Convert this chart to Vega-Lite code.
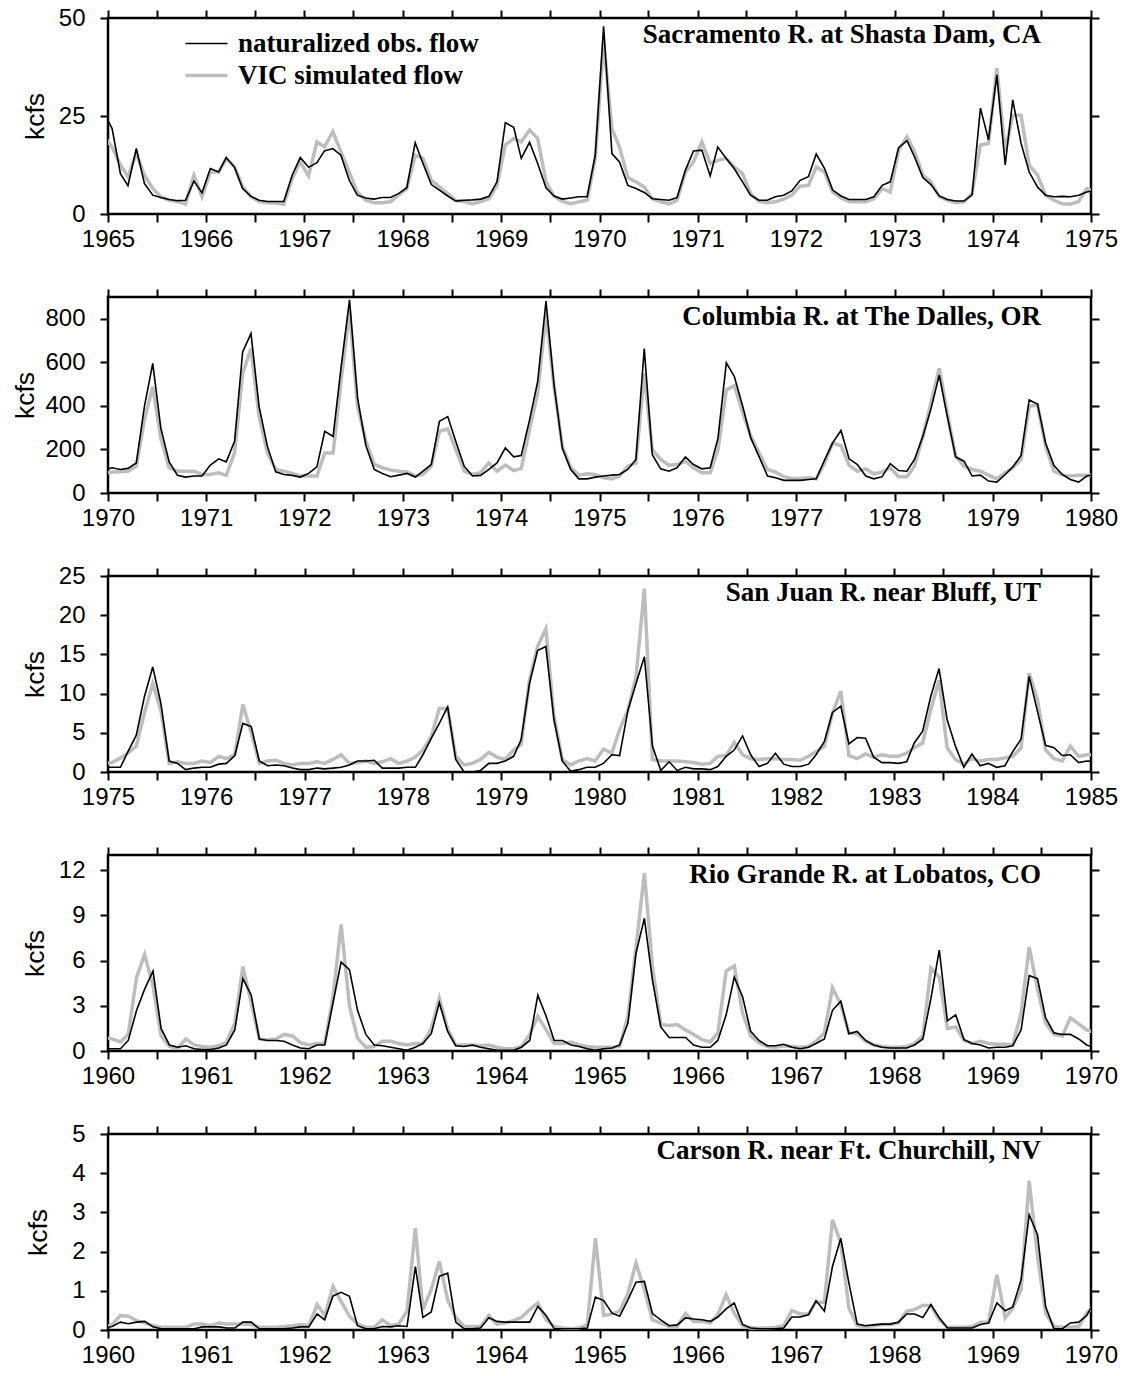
{
"$schema":"https://vega.github.io/schema/vega-lite/v6.json",
"background":"white",
"padding":{"left":10,"top":4,"right":10,"bottom":10},
"bounds":"flush",
"spacing":83,
"config":{
 "view":{"stroke":"black","strokeWidth":2.5},
 "font":"Liberation Sans",
 "axis":{"domain":false,"grid":false,"tickColor":"black","tickWidth":2,"tickSize":8,"labelFont":"Liberation Sans","labelFontSize":24,"labelColor":"black","titleFont":"Liberation Sans","titleFontSize":26.5,"titleFontWeight":"normal","titleColor":"black","labelOverlap":false,"labelFlush":false},
 "axisX":{"labelPadding":5},
 "axisY":{"labelPadding":15,"titleX":-65,"titleY":98,"titleAngle":-90,"titleBaseline":"alphabetic","titleAlign":"center"},
 "title":{"font":"Liberation Serif","fontSize":27,"fontWeight":"bold","color":"black","anchor":"end","frame":"group","baseline":"alphabetic","offset":-43,"dx":-50}
},
"datasets":{
"p1":[{"d":"1964-12","o":26,"v":20},
{"d":"1965-01","o":21.8,"v":17},{"d":"1965-02","o":10.3,"v":12.5},{"d":"1965-03","o":7.2,"v":9.5},{"d":"1965-04","o":16.7,"v":15.5},{"d":"1965-05","o":7.8,"v":9.9},{"d":"1965-06","o":4.8,"v":6.5},{"d":"1965-07","o":4.2,"v":4.4},{"d":"1965-08","o":3.7,"v":3.5},{"d":"1965-09","o":3.4,"v":3.1},{"d":"1965-10","o":3.5,"v":2.6},{"d":"1965-11","o":8.4,"v":9.9},{"d":"1965-12","o":5.4,"v":4.4},
{"d":"1966-01","o":11.6,"v":10.7},{"d":"1966-02","o":10.7,"v":10.7},{"d":"1966-03","o":14.4,"v":14.2},{"d":"1966-04","o":11.9,"v":12},{"d":"1966-05","o":6.5,"v":6.9},{"d":"1966-06","o":4.5,"v":4.4},{"d":"1966-07","o":3.5,"v":3.2},{"d":"1966-08","o":3.2,"v":2.9},{"d":"1966-09","o":3.2,"v":2.8},{"d":"1966-10","o":3.2,"v":2.5},{"d":"1966-11","o":9.9,"v":9},{"d":"1966-12","o":14.4,"v":13.3},
{"d":"1967-01","o":11.9,"v":9.7},{"d":"1967-02","o":13.1,"v":18.4},{"d":"1967-03","o":16.1,"v":17.1},{"d":"1967-04","o":16.7,"v":21},{"d":"1967-05","o":15,"v":15.9},{"d":"1967-06","o":8.6,"v":10.7},{"d":"1967-07","o":4.8,"v":5.6},{"d":"1967-08","o":4.1,"v":3.5},{"d":"1967-09","o":3.8,"v":2.9},{"d":"1967-10","o":4.2,"v":2.9},{"d":"1967-11","o":4.2,"v":3.1},{"d":"1967-12","o":5.2,"v":4.8},
{"d":"1968-01","o":6.7,"v":6.5},{"d":"1968-02","o":18.2,"v":15},{"d":"1968-03","o":12.9,"v":14.2},{"d":"1968-04","o":7.5,"v":8.6},{"d":"1968-05","o":6.1,"v":6.9},{"d":"1968-06","o":4.6,"v":5.2},{"d":"1968-07","o":3.3,"v":3.5},{"d":"1968-08","o":3.5,"v":3.2},{"d":"1968-09","o":3.6,"v":2.6},{"d":"1968-10","o":3.8,"v":3.2},{"d":"1968-11","o":4.5,"v":3.9},{"d":"1968-12","o":8.2,"v":7.3},
{"d":"1969-01","o":23.3,"v":17.6},{"d":"1969-02","o":22.1,"v":19.3},{"d":"1969-03","o":14.2,"v":18.4},{"d":"1969-04","o":18.3,"v":21.4},{"d":"1969-05","o":12.9,"v":19.3},{"d":"1969-06","o":6.7,"v":8.2},{"d":"1969-07","o":4.6,"v":4.5},{"d":"1969-08","o":3.8,"v":3.2},{"d":"1969-09","o":4.1,"v":2.6},{"d":"1969-10","o":4.4,"v":3.1},{"d":"1969-11","o":4.4,"v":3.5},{"d":"1969-12","o":15,"v":14.2},
{"d":"1970-01","o":47.9,"v":44},{"d":"1970-02","o":15.4,"v":21.8},{"d":"1970-03","o":13.3,"v":17.1},{"d":"1970-04","o":7.3,"v":9.3},{"d":"1970-05","o":6.5,"v":8.2},{"d":"1970-06","o":5.5,"v":6.9},{"d":"1970-07","o":3.9,"v":3.9},{"d":"1970-08","o":3.7,"v":3.1},{"d":"1970-09","o":3.5,"v":2.6},{"d":"1970-10","o":4.2,"v":3.5},{"d":"1970-11","o":11.2,"v":10.7},{"d":"1970-12","o":16.1,"v":13.3},
{"d":"1971-01","o":16.3,"v":18.4},{"d":"1971-02","o":9.7,"v":12.9},{"d":"1971-03","o":17.1,"v":13.7},{"d":"1971-04","o":14.2,"v":14.2},{"d":"1971-05","o":11.6,"v":12},{"d":"1971-06","o":8.2,"v":10.3},{"d":"1971-07","o":4.8,"v":5.2},{"d":"1971-08","o":3.5,"v":3.2},{"d":"1971-09","o":3.5,"v":2.9},{"d":"1971-10","o":4.4,"v":3.1},{"d":"1971-11","o":4.8,"v":3.8},{"d":"1971-12","o":5.9,"v":4.8},
{"d":"1972-01","o":8.6,"v":7.1},{"d":"1972-02","o":9.5,"v":7.3},{"d":"1972-03","o":15.3,"v":12},{"d":"1972-04","o":11.6,"v":10.7},{"d":"1972-05","o":6.1,"v":5.6},{"d":"1972-06","o":4.6,"v":4.1},{"d":"1972-07","o":3.7,"v":3.2},{"d":"1972-08","o":3.7,"v":3.1},{"d":"1972-09","o":3.7,"v":3.1},{"d":"1972-10","o":4.4,"v":3.9},{"d":"1972-11","o":7.3,"v":6.5},{"d":"1972-12","o":8.2,"v":5.6},
{"d":"1973-01","o":16.9,"v":16.3},{"d":"1973-02","o":18.7,"v":19.7},{"d":"1973-03","o":14.6,"v":15.9},{"d":"1973-04","o":9.3,"v":9.9},{"d":"1973-05","o":7.5,"v":8.2},{"d":"1973-06","o":4.6,"v":4.4},{"d":"1973-07","o":3.7,"v":3.5},{"d":"1973-08","o":3.3,"v":2.9},{"d":"1973-09","o":3.3,"v":3.1},{"d":"1973-10","o":4.9,"v":5.2},{"d":"1973-11","o":27,"v":17.6},{"d":"1973-12","o":18.9,"v":18},
{"d":"1974-01","o":35.5,"v":37.2},{"d":"1974-02","o":12.5,"v":15.9},{"d":"1974-03","o":29.1,"v":25.2},{"d":"1974-04","o":18,"v":25.2},{"d":"1974-05","o":10.7,"v":12.5},{"d":"1974-06","o":6.9,"v":9.9},{"d":"1974-07","o":4.8,"v":4.8},{"d":"1974-08","o":4.4,"v":3.5},{"d":"1974-09","o":4.5,"v":2.6},{"d":"1974-10","o":4.4,"v":2.5},{"d":"1974-11","o":4.8,"v":3.2},{"d":"1974-12","o":5.6,"v":6.5},
{"d":"1975-01","o":6,"v":5.5}],
"p2":[{"d":"1969-12","o":106,"v":90},
{"d":"1970-01","o":116,"v":96},{"d":"1970-02","o":108,"v":97},{"d":"1970-03","o":113,"v":100},{"d":"1970-04","o":138,"v":123},{"d":"1970-05","o":397,"v":336},{"d":"1970-06","o":595,"v":488},{"d":"1970-07","o":298,"v":252},{"d":"1970-08","o":143,"v":116},{"d":"1970-09","o":81,"v":100},{"d":"1970-10","o":73,"v":100},{"d":"1970-11","o":78,"v":100},{"d":"1970-12","o":78,"v":85},
{"d":"1971-01","o":128,"v":85},{"d":"1971-02","o":157,"v":93},{"d":"1971-03","o":143,"v":81},{"d":"1971-04","o":237,"v":184},{"d":"1971-05","o":648,"v":549},{"d":"1971-06","o":732,"v":663},{"d":"1971-07","o":397,"v":351},{"d":"1971-08","o":214,"v":184},{"d":"1971-09","o":97,"v":108},{"d":"1971-10","o":85,"v":100},{"d":"1971-11","o":81,"v":90},{"d":"1971-12","o":73,"v":78},
{"d":"1972-01","o":90,"v":78},{"d":"1972-02","o":120,"v":78},{"d":"1972-03","o":283,"v":184},{"d":"1972-04","o":260,"v":184},{"d":"1972-05","o":580,"v":519},{"d":"1972-06","o":887,"v":838},{"d":"1972-07","o":435,"v":397},{"d":"1972-08","o":217,"v":237},{"d":"1972-09","o":108,"v":131},{"d":"1972-10","o":90,"v":116},{"d":"1972-11","o":75,"v":105},{"d":"1972-12","o":82,"v":100},
{"d":"1973-01","o":90,"v":97},{"d":"1973-02","o":73,"v":78},{"d":"1973-03","o":100,"v":85},{"d":"1973-04","o":131,"v":123},{"d":"1973-05","o":329,"v":283},{"d":"1973-06","o":351,"v":294},{"d":"1973-07","o":237,"v":199},{"d":"1973-08","o":123,"v":100},{"d":"1973-09","o":78,"v":85},{"d":"1973-10","o":81,"v":93},{"d":"1973-11","o":108,"v":138},{"d":"1973-12","o":138,"v":100},
{"d":"1974-01","o":207,"v":128},{"d":"1974-02","o":166,"v":103},{"d":"1974-03","o":172,"v":113},{"d":"1974-04","o":336,"v":291},{"d":"1974-05","o":511,"v":458},{"d":"1974-06","o":881,"v":823},{"d":"1974-07","o":496,"v":488},{"d":"1974-08","o":204,"v":214},{"d":"1974-09","o":108,"v":116},{"d":"1974-10","o":65,"v":82},{"d":"1974-11","o":65,"v":88},{"d":"1974-12","o":73,"v":85},
{"d":"1975-01","o":78,"v":70},{"d":"1975-02","o":82,"v":65},{"d":"1975-03","o":85,"v":78},{"d":"1975-04","o":108,"v":123},{"d":"1975-05","o":154,"v":138},{"d":"1975-06","o":663,"v":549},{"d":"1975-07","o":176,"v":199},{"d":"1975-08","o":111,"v":154},{"d":"1975-09","o":100,"v":128},{"d":"1975-10","o":116,"v":131},{"d":"1975-11","o":166,"v":146},{"d":"1975-12","o":131,"v":116},
{"d":"1976-01","o":111,"v":93},{"d":"1976-02","o":116,"v":93},{"d":"1976-03","o":252,"v":199},{"d":"1976-04","o":598,"v":473},{"d":"1976-05","o":534,"v":493},{"d":"1976-06","o":397,"v":367},{"d":"1976-07","o":252,"v":260},{"d":"1976-08","o":166,"v":184},{"d":"1976-09","o":78,"v":108},{"d":"1976-10","o":70,"v":96},{"d":"1976-11","o":58,"v":75},{"d":"1976-12","o":58,"v":67},
{"d":"1977-01","o":58,"v":67},{"d":"1977-02","o":62,"v":70},{"d":"1977-03","o":65,"v":65},{"d":"1977-04","o":151,"v":138},{"d":"1977-05","o":230,"v":230},{"d":"1977-06","o":287,"v":217},{"d":"1977-07","o":157,"v":128},{"d":"1977-08","o":131,"v":100},{"d":"1977-09","o":78,"v":111},{"d":"1977-10","o":65,"v":88},{"d":"1977-11","o":75,"v":96},{"d":"1977-12","o":135,"v":116},
{"d":"1978-01","o":103,"v":75},{"d":"1978-02","o":100,"v":75},{"d":"1978-03","o":154,"v":123},{"d":"1978-04","o":260,"v":260},{"d":"1978-05","o":385,"v":412},{"d":"1978-06","o":541,"v":572},{"d":"1978-07","o":351,"v":367},{"d":"1978-08","o":166,"v":169},{"d":"1978-09","o":146,"v":123},{"d":"1978-10","o":78,"v":108},{"d":"1978-11","o":82,"v":100},{"d":"1978-12","o":55,"v":82},
{"d":"1979-01","o":50,"v":65},{"d":"1979-02","o":85,"v":93},{"d":"1979-03","o":119,"v":116},{"d":"1979-04","o":172,"v":154},{"d":"1979-05","o":427,"v":397},{"d":"1979-06","o":409,"v":405},{"d":"1979-07","o":230,"v":214},{"d":"1979-08","o":126,"v":100},{"d":"1979-09","o":85,"v":82},{"d":"1979-10","o":62,"v":78},{"d":"1979-11","o":50,"v":81},{"d":"1979-12","o":78,"v":82},
{"d":"1980-01","o":85,"v":82}],
"p3":[{"d":"1974-12","o":0.6,"v":1.1},
{"d":"1975-01","o":0.6,"v":1.2},{"d":"1975-02","o":0.6,"v":1.8},{"d":"1975-03","o":2.6,"v":2.4},{"d":"1975-04","o":4.7,"v":3.3},{"d":"1975-05","o":9.6,"v":7.5},{"d":"1975-06","o":13.4,"v":11.3},{"d":"1975-07","o":8.8,"v":7.9},{"d":"1975-08","o":1.4,"v":1.1},{"d":"1975-09","o":1.1,"v":1.3},{"d":"1975-10","o":0.3,"v":1.1},{"d":"1975-11","o":0.5,"v":1.1},{"d":"1975-12","o":0.6,"v":1.4},
{"d":"1976-01","o":0.6,"v":1.2},{"d":"1976-02","o":1,"v":2},{"d":"1976-03","o":1.1,"v":1.7},{"d":"1976-04","o":2.1,"v":2.2},{"d":"1976-05","o":6.2,"v":8.6},{"d":"1976-06","o":5.8,"v":5},{"d":"1976-07","o":1.4,"v":1.1},{"d":"1976-08","o":0.8,"v":1.4},{"d":"1976-09","o":0.9,"v":1.5},{"d":"1976-10","o":0.8,"v":1.1},{"d":"1976-11","o":0.5,"v":0.9},{"d":"1976-12","o":0.3,"v":1.1},
{"d":"1977-01","o":0.3,"v":1.1},{"d":"1977-02","o":0.5,"v":1.3},{"d":"1977-03","o":0.4,"v":1.1},{"d":"1977-04","o":0.5,"v":1.6},{"d":"1977-05","o":0.6,"v":2.2},{"d":"1977-06","o":0.9,"v":1.1},{"d":"1977-07","o":1.4,"v":1.2},{"d":"1977-08","o":1.4,"v":1.4},{"d":"1977-09","o":1.5,"v":1.1},{"d":"1977-10","o":0.5,"v":1.3},{"d":"1977-11","o":0.5,"v":1.7},{"d":"1977-12","o":0.5,"v":1.1},
{"d":"1978-01","o":0.6,"v":1.4},{"d":"1978-02","o":0.6,"v":1.9},{"d":"1978-03","o":2.2,"v":2.8},{"d":"1978-04","o":4.3,"v":4.5},{"d":"1978-05","o":6.2,"v":8.1},{"d":"1978-06","o":8.3,"v":8.1},{"d":"1978-07","o":1.6,"v":2},{"d":"1978-08","o":0,"v":0.9},{"d":"1978-09","o":0,"v":1.1},{"d":"1978-10","o":0.2,"v":1.6},{"d":"1978-11","o":1.1,"v":2.5},{"d":"1978-12","o":1.1,"v":1.9},
{"d":"1979-01","o":1.4,"v":1.6},{"d":"1979-02","o":2,"v":2.8},{"d":"1979-03","o":4.1,"v":3.5},{"d":"1979-04","o":11.3,"v":11.7},{"d":"1979-05","o":15.5,"v":16},{"d":"1979-06","o":16,"v":18.3},{"d":"1979-07","o":6.7,"v":7.1},{"d":"1979-08","o":1.4,"v":1.6},{"d":"1979-09","o":0.1,"v":0.9},{"d":"1979-10","o":0.3,"v":1.4},{"d":"1979-11","o":0.6,"v":1.7},{"d":"1979-12","o":0.6,"v":1.4},
{"d":"1980-01","o":1.1,"v":2.9},{"d":"1980-02","o":2.2,"v":2.4},{"d":"1980-03","o":2.1,"v":5.4},{"d":"1980-04","o":7.9,"v":7.9},{"d":"1980-05","o":11.3,"v":12.2},{"d":"1980-06","o":14.7,"v":23.4},{"d":"1980-07","o":3.3,"v":1.6},{"d":"1980-08","o":0.2,"v":1.4},{"d":"1980-09","o":1.3,"v":1.4},{"d":"1980-10","o":0.2,"v":1.4},{"d":"1980-11","o":0.6,"v":1.3},{"d":"1980-12","o":0.4,"v":1.2},
{"d":"1981-01","o":0.4,"v":1},{"d":"1981-02","o":0.3,"v":1.1},{"d":"1981-03","o":0.7,"v":2},{"d":"1981-04","o":2,"v":2.1},{"d":"1981-05","o":2.8,"v":3.8},{"d":"1981-06","o":4.6,"v":2.2},{"d":"1981-07","o":2.2,"v":1.7},{"d":"1981-08","o":0.7,"v":1.6},{"d":"1981-09","o":1.1,"v":1.7},{"d":"1981-10","o":2.4,"v":1.7},{"d":"1981-11","o":1,"v":1.6},{"d":"1981-12","o":0.7,"v":1.6},
{"d":"1982-01","o":0.7,"v":1.5},{"d":"1982-02","o":1,"v":2},{"d":"1982-03","o":2.2,"v":2.6},{"d":"1982-04","o":3.9,"v":3.3},{"d":"1982-05","o":7.6,"v":7.5},{"d":"1982-06","o":8.4,"v":10.3},{"d":"1982-07","o":3.6,"v":2.1},{"d":"1982-08","o":4.4,"v":1.7},{"d":"1982-09","o":4.3,"v":2.3},{"d":"1982-10","o":1.9,"v":1.9},{"d":"1982-11","o":1.2,"v":2.2},{"d":"1982-12","o":1.2,"v":2},
{"d":"1983-01","o":1.1,"v":2},{"d":"1983-02","o":1.3,"v":2.4},{"d":"1983-03","o":3.7,"v":3.1},{"d":"1983-04","o":5.2,"v":3.7},{"d":"1983-05","o":9.6,"v":7.9},{"d":"1983-06","o":13.2,"v":11.7},{"d":"1983-07","o":6.7,"v":3.1},{"d":"1983-08","o":3.3,"v":1.6},{"d":"1983-09","o":0.6,"v":1},{"d":"1983-10","o":2.3,"v":1.7},{"d":"1983-11","o":0.8,"v":1.4},{"d":"1983-12","o":1.1,"v":1.6},
{"d":"1984-01","o":0.6,"v":1.6},{"d":"1984-02","o":0.8,"v":1.8},{"d":"1984-03","o":2.6,"v":2},{"d":"1984-04","o":4.2,"v":3.1},{"d":"1984-05","o":12.2,"v":12.6},{"d":"1984-06","o":7.7,"v":9.2},{"d":"1984-07","o":3.4,"v":2.8},{"d":"1984-08","o":3.1,"v":1.7},{"d":"1984-09","o":2.1,"v":1.4},{"d":"1984-10","o":2.2,"v":3.3},{"d":"1984-11","o":1.2,"v":2},{"d":"1984-12","o":1.4,"v":2.2},
{"d":"1985-01","o":1.3,"v":2.2}],
"p4":[{"d":"1959-12","o":0.15,"v":0.9},
{"d":"1960-01","o":0.15,"v":0.8},{"d":"1960-02","o":0.15,"v":0.6},{"d":"1960-03","o":0.7,"v":1.1},{"d":"1960-04","o":2.7,"v":4.9},{"d":"1960-05","o":4.1,"v":6.4},{"d":"1960-06","o":5.3,"v":4.3},{"d":"1960-07","o":1.5,"v":1},{"d":"1960-08","o":0.4,"v":0.3},{"d":"1960-09","o":0.25,"v":0.2},{"d":"1960-10","o":0.35,"v":0.8},{"d":"1960-11","o":0.15,"v":0.4},{"d":"1960-12","o":0.1,"v":0.3},
{"d":"1961-01","o":0.1,"v":0.25},{"d":"1961-02","o":0.2,"v":0.35},{"d":"1961-03","o":0.4,"v":0.6},{"d":"1961-04","o":1.4,"v":1.85},{"d":"1961-05","o":4.8,"v":5.6},{"d":"1961-06","o":3.7,"v":3.2},{"d":"1961-07","o":0.8,"v":0.8},{"d":"1961-08","o":0.7,"v":0.75},{"d":"1961-09","o":0.7,"v":0.8},{"d":"1961-10","o":0.65,"v":1.1},{"d":"1961-11","o":0.4,"v":1},{"d":"1961-12","o":0.2,"v":0.55},
{"d":"1962-01","o":0.15,"v":0.4},{"d":"1962-02","o":0.4,"v":0.5},{"d":"1962-03","o":0.4,"v":0.5},{"d":"1962-04","o":3.2,"v":3.6},{"d":"1962-05","o":5.9,"v":8.4},{"d":"1962-06","o":5.4,"v":3},{"d":"1962-07","o":2.7,"v":0.85},{"d":"1962-08","o":1.1,"v":0.25},{"d":"1962-09","o":0.4,"v":0.3},{"d":"1962-10","o":0.35,"v":0.65},{"d":"1962-11","o":0.25,"v":0.65},{"d":"1962-12","o":0.15,"v":0.5},
{"d":"1963-01","o":0.05,"v":0.4},{"d":"1963-02","o":0.25,"v":0.5},{"d":"1963-03","o":0.5,"v":0.5},{"d":"1963-04","o":1.15,"v":1.5},{"d":"1963-05","o":3.2,"v":3.5},{"d":"1963-06","o":1.3,"v":1.45},{"d":"1963-07","o":0.35,"v":0.4},{"d":"1963-08","o":0.3,"v":0.4},{"d":"1963-09","o":0.4,"v":0.4},{"d":"1963-10","o":0.25,"v":0.35},{"d":"1963-11","o":0.15,"v":0.4},{"d":"1963-12","o":0.05,"v":0.25},
{"d":"1964-01","o":0.05,"v":0.15},{"d":"1964-02","o":0.05,"v":0.15},{"d":"1964-03","o":0.25,"v":0.3},{"d":"1964-04","o":0.7,"v":1.1},{"d":"1964-05","o":3.7,"v":2.3},{"d":"1964-06","o":2.3,"v":1.4},{"d":"1964-07","o":0.7,"v":0.5},{"d":"1964-08","o":0.7,"v":0.5},{"d":"1964-09","o":0.4,"v":0.6},{"d":"1964-10","o":0.3,"v":0.4},{"d":"1964-11","o":0.15,"v":0.3},{"d":"1964-12","o":0.05,"v":0.25},
{"d":"1965-01","o":0.15,"v":0.25},{"d":"1965-02","o":0.2,"v":0.25},{"d":"1965-03","o":0.4,"v":0.3},{"d":"1965-04","o":1.85,"v":2.3},{"d":"1965-05","o":6.5,"v":6.9},{"d":"1965-06","o":8.8,"v":11.8},{"d":"1965-07","o":4.7,"v":5.6},{"d":"1965-08","o":1.6,"v":1.75},{"d":"1965-09","o":0.9,"v":1.7},{"d":"1965-10","o":0.9,"v":1.75},{"d":"1965-11","o":0.9,"v":1.4},{"d":"1965-12","o":0.4,"v":1.1},
{"d":"1966-01","o":0.25,"v":0.75},{"d":"1966-02","o":0.25,"v":0.6},{"d":"1966-03","o":0.7,"v":1.2},{"d":"1966-04","o":2.4,"v":5.3},{"d":"1966-05","o":4.9,"v":5.65},{"d":"1966-06","o":3.6,"v":2.5},{"d":"1966-07","o":1.3,"v":1},{"d":"1966-08","o":0.7,"v":0.55},{"d":"1966-09","o":0.35,"v":0.3},{"d":"1966-10","o":0.35,"v":0.25},{"d":"1966-11","o":0.45,"v":0.35},{"d":"1966-12","o":0.25,"v":0.3},
{"d":"1967-01","o":0.15,"v":0.25},{"d":"1967-02","o":0.25,"v":0.3},{"d":"1967-03","o":0.5,"v":0.65},{"d":"1967-04","o":0.8,"v":1.2},{"d":"1967-05","o":2.7,"v":4.2},{"d":"1967-06","o":3.3,"v":3.1},{"d":"1967-07","o":1.15,"v":1.2},{"d":"1967-08","o":1.3,"v":1.15},{"d":"1967-09","o":0.7,"v":0.65},{"d":"1967-10","o":0.4,"v":0.4},{"d":"1967-11","o":0.25,"v":0.3},{"d":"1967-12","o":0.2,"v":0.25},
{"d":"1968-01","o":0.2,"v":0.25},{"d":"1968-02","o":0.2,"v":0.3},{"d":"1968-03","o":0.4,"v":0.5},{"d":"1968-04","o":0.8,"v":1},{"d":"1968-05","o":3.5,"v":5.5},{"d":"1968-06","o":6.7,"v":4.9},{"d":"1968-07","o":2,"v":1.5},{"d":"1968-08","o":2.4,"v":1.6},{"d":"1968-09","o":0.75,"v":0.7},{"d":"1968-10","o":0.5,"v":0.5},{"d":"1968-11","o":0.4,"v":0.65},{"d":"1968-12","o":0.2,"v":0.5},
{"d":"1969-01","o":0.25,"v":0.45},{"d":"1969-02","o":0.25,"v":0.45},{"d":"1969-03","o":0.35,"v":0.4},{"d":"1969-04","o":1.4,"v":2.5},{"d":"1969-05","o":5,"v":6.9},{"d":"1969-06","o":4.8,"v":4.1},{"d":"1969-07","o":2.2,"v":1.85},{"d":"1969-08","o":1.2,"v":1.1},{"d":"1969-09","o":1.1,"v":1},{"d":"1969-10","o":1.1,"v":2.2},{"d":"1969-11","o":0.8,"v":1.8},{"d":"1969-12","o":0.4,"v":1.4},
{"d":"1970-01","o":0.2,"v":1.2}],
"p5":[{"d":"1959-12","o":0.05,"v":0.05},
{"d":"1960-01","o":0.09,"v":0.14},{"d":"1960-02","o":0.2,"v":0.37},{"d":"1960-03","o":0.16,"v":0.35},{"d":"1960-04","o":0.2,"v":0.24},{"d":"1960-05","o":0.22,"v":0.18},{"d":"1960-06","o":0.08,"v":0.11},{"d":"1960-07","o":0.03,"v":0.07},{"d":"1960-08","o":0.03,"v":0.07},{"d":"1960-09","o":0.03,"v":0.07},{"d":"1960-10","o":0.03,"v":0.07},{"d":"1960-11","o":0.03,"v":0.15},{"d":"1960-12","o":0.08,"v":0.15},
{"d":"1961-01","o":0.08,"v":0.11},{"d":"1961-02","o":0.08,"v":0.18},{"d":"1961-03","o":0.05,"v":0.15},{"d":"1961-04","o":0.05,"v":0.15},{"d":"1961-05","o":0.2,"v":0.15},{"d":"1961-06","o":0.2,"v":0.14},{"d":"1961-07","o":0.03,"v":0.07},{"d":"1961-08","o":0.03,"v":0.07},{"d":"1961-09","o":0.03,"v":0.07},{"d":"1961-10","o":0.03,"v":0.09},{"d":"1961-11","o":0.05,"v":0.11},{"d":"1961-12","o":0.08,"v":0.14},
{"d":"1962-01","o":0.08,"v":0.11},{"d":"1962-02","o":0.41,"v":0.65},{"d":"1962-03","o":0.26,"v":0.37},{"d":"1962-04","o":0.87,"v":1.11},{"d":"1962-05","o":0.96,"v":0.73},{"d":"1962-06","o":0.86,"v":0.35},{"d":"1962-07","o":0.11,"v":0.15},{"d":"1962-08","o":0.03,"v":0.07},{"d":"1962-09","o":0.03,"v":0.07},{"d":"1962-10","o":0.09,"v":0.26},{"d":"1962-11","o":0.08,"v":0.11},{"d":"1962-12","o":0.11,"v":0.15},
{"d":"1963-01","o":0.09,"v":0.48},{"d":"1963-02","o":1.62,"v":2.6},{"d":"1963-03","o":0.32,"v":0.52},{"d":"1963-04","o":0.46,"v":1.03},{"d":"1963-05","o":1.37,"v":1.75},{"d":"1963-06","o":1.45,"v":0.77},{"d":"1963-07","o":0.2,"v":0.32},{"d":"1963-08","o":0.03,"v":0.09},{"d":"1963-09","o":0.03,"v":0.09},{"d":"1963-10","o":0.05,"v":0.09},{"d":"1963-11","o":0.31,"v":0.37},{"d":"1963-12","o":0.22,"v":0.15},
{"d":"1964-01","o":0.2,"v":0.18},{"d":"1964-02","o":0.2,"v":0.24},{"d":"1964-03","o":0.2,"v":0.32},{"d":"1964-04","o":0.2,"v":0.52},{"d":"1964-05","o":0.6,"v":0.69},{"d":"1964-06","o":0.37,"v":0.26},{"d":"1964-07","o":0.03,"v":0.09},{"d":"1964-08","o":0.03,"v":0.05},{"d":"1964-09","o":0.03,"v":0.03},{"d":"1964-10","o":0.03,"v":0.05},{"d":"1964-11","o":0.05,"v":0.14},{"d":"1964-12","o":0.84,"v":2.34},
{"d":"1965-01","o":0.75,"v":0.37},{"d":"1965-02","o":0.43,"v":0.41},{"d":"1965-03","o":0.35,"v":0.48},{"d":"1965-04","o":0.77,"v":0.94},{"d":"1965-05","o":1.22,"v":1.71},{"d":"1965-06","o":1.24,"v":1.03},{"d":"1965-07","o":0.42,"v":0.26},{"d":"1965-08","o":0.26,"v":0.18},{"d":"1965-09","o":0.11,"v":0.09},{"d":"1965-10","o":0.13,"v":0.09},{"d":"1965-11","o":0.31,"v":0.42},{"d":"1965-12","o":0.28,"v":0.22},
{"d":"1966-01","o":0.26,"v":0.22},{"d":"1966-02","o":0.22,"v":0.18},{"d":"1966-03","o":0.33,"v":0.39},{"d":"1966-04","o":0.54,"v":0.9},{"d":"1966-05","o":0.69,"v":0.43},{"d":"1966-06","o":0.14,"v":0.11},{"d":"1966-07","o":0.05,"v":0.05},{"d":"1966-08","o":0.03,"v":0.05},{"d":"1966-09","o":0.03,"v":0.05},{"d":"1966-10","o":0.03,"v":0.07},{"d":"1966-11","o":0.05,"v":0.11},{"d":"1966-12","o":0.33,"v":0.5},
{"d":"1967-01","o":0.33,"v":0.41},{"d":"1967-02","o":0.39,"v":0.41},{"d":"1967-03","o":0.75,"v":0.71},{"d":"1967-04","o":0.48,"v":0.71},{"d":"1967-05","o":1.62,"v":2.81},{"d":"1967-06","o":2.34,"v":2.22},{"d":"1967-07","o":1.2,"v":0.56},{"d":"1967-08","o":0.15,"v":0.11},{"d":"1967-09","o":0.11,"v":0.09},{"d":"1967-10","o":0.13,"v":0.11},{"d":"1967-11","o":0.15,"v":0.14},{"d":"1967-12","o":0.15,"v":0.14},
{"d":"1968-01","o":0.2,"v":0.18},{"d":"1968-02","o":0.41,"v":0.48},{"d":"1968-03","o":0.41,"v":0.52},{"d":"1968-04","o":0.32,"v":0.63},{"d":"1968-05","o":0.65,"v":0.62},{"d":"1968-06","o":0.31,"v":0.26},{"d":"1968-07","o":0.05,"v":0.07},{"d":"1968-08","o":0.05,"v":0.07},{"d":"1968-09","o":0.05,"v":0.07},{"d":"1968-10","o":0.05,"v":0.09},{"d":"1968-11","o":0.14,"v":0.2},{"d":"1968-12","o":0.18,"v":0.2},
{"d":"1969-01","o":0.69,"v":1.41},{"d":"1969-02","o":0.49,"v":0.31},{"d":"1969-03","o":0.59,"v":0.56},{"d":"1969-04","o":1.28,"v":1.03},{"d":"1969-05","o":2.94,"v":3.81},{"d":"1969-06","o":2.43,"v":1.88},{"d":"1969-07","o":0.6,"v":0.43},{"d":"1969-08","o":0.03,"v":0.09},{"d":"1969-09","o":0.03,"v":0.07},{"d":"1969-10","o":0.18,"v":0.07},{"d":"1969-11","o":0.2,"v":0.09},{"d":"1969-12","o":0.37,"v":0.43},
{"d":"1970-01","o":0.75,"v":0.65}]
},
"vconcat":[
{"width":983,"height":196,"data":{"name":"p1"},"transform":[{"fold":["v","o"],"as":["s","q"]}],
 "title":{"text":"Sacramento R. at Shasta Dam, CA"},
 "layer":[
  {"mark":{"type":"line","clip":true,"xOffset":4.1},
   "encoding":{
    "x":{"field":"d","type":"temporal","scale":{"type":"utc","domain":[{"year":1965,"month":1,"date":1,"utc":true},{"year":1975,"month":1,"date":1,"utc":true}]},"axis":{"orient":"bottom","title":null,"tickCount":{"interval":"month","step":6},"labelExpr":"utcmonth(datum.value)==0 ? utcFormat(datum.value,'%Y') : ''"}},
    "y":{"field":"q","type":"quantitative","scale":{"domain":[0,50],"nice":false},"axis":{"orient":"left","title":"kcfs","values":[0,25,50]}},
    "color":{"field":"s","type":"nominal","scale":{"domain":["o","v"],"range":["#000000","#bdbdbd"]},
      "legend":{"orient":"none","legendX":85,"legendY":12,"title":null,"symbolType":"M-2.5,0H2.5","symbolSize":282,"labelFont":"Liberation Serif","labelFontWeight":"bold","labelFontSize":27,"labelColor":"black","labelOffset":18,"rowPadding":4,"padding":0,"labelLimit":500,"labelExpr":"datum.value == 'o' ? 'naturalized obs. flow' : 'VIC simulated flow'"}},
    "strokeWidth":{"field":"s","type":"nominal","scale":{"type":"point","domain":["o","v"],"range":[1.6,3.5],"padding":0},
      "legend":{"orient":"none","legendX":85,"legendY":12,"title":null,"symbolType":"M-2.5,0H2.5","symbolSize":282,"labelFont":"Liberation Serif","labelFontWeight":"bold","labelFontSize":27,"labelColor":"black","labelOffset":18,"rowPadding":4,"padding":0,"labelLimit":500,"labelExpr":"datum.value == 'o' ? 'naturalized obs. flow' : 'VIC simulated flow'"}}
   }},
  {"mark":{"type":"line","opacity":0,"clip":true},
   "encoding":{
    "x":{"field":"d","type":"temporal","axis":{"orient":"top","title":null,"labels":false,"tickCount":{"interval":"month","step":6}}},
    "y":{"field":"q","type":"quantitative","axis":{"orient":"right","title":null,"labels":false,"values":[0,25,50]}}
   }}
 ],
 "resolve":{"axis":{"x":"independent","y":"independent"}}
},
{"width":983,"height":196,"data":{"name":"p2"},"transform":[{"fold":["v","o"],"as":["s","q"]}],
 "title":{"text":"Columbia R. at The Dalles, OR"},
 "layer":[
  {"mark":{"type":"line","clip":true,"xOffset":4.1},
   "encoding":{
    "x":{"field":"d","type":"temporal","scale":{"type":"utc","domain":[{"year":1970,"month":1,"date":1,"utc":true},{"year":1980,"month":1,"date":1,"utc":true}]},"axis":{"orient":"bottom","title":null,"tickCount":{"interval":"month","step":6},"labelExpr":"utcmonth(datum.value)==0 ? utcFormat(datum.value,'%Y') : ''"}},
    "y":{"field":"q","type":"quantitative","scale":{"domain":[0,900],"nice":false},"axis":{"orient":"left","title":"kcfs","titleX":-75,"values":[0,200,400,600,800]}},
    "color":{"field":"s","type":"nominal","scale":{"domain":["o","v"],"range":["#000000","#bdbdbd"]},"legend":null},
    "strokeWidth":{"field":"s","type":"nominal","scale":{"type":"point","domain":["o","v"],"range":[1.6,3.5],"padding":0},"legend":null}
   }},
  {"mark":{"type":"line","opacity":0,"clip":true},
   "encoding":{
    "x":{"field":"d","type":"temporal","axis":{"orient":"top","title":null,"labels":false,"tickCount":{"interval":"month","step":6}}},
    "y":{"field":"q","type":"quantitative","axis":{"orient":"right","title":null,"labels":false,"values":[0,200,400,600,800]}}
   }}
 ],
 "resolve":{"axis":{"x":"independent","y":"independent"}}
},
{"width":983,"height":196,"data":{"name":"p3"},"transform":[{"fold":["v","o"],"as":["s","q"]}],
 "title":{"text":"San Juan R. near Bluff, UT"},
 "layer":[
  {"mark":{"type":"line","clip":true,"xOffset":4.1},
   "encoding":{
    "x":{"field":"d","type":"temporal","scale":{"type":"utc","domain":[{"year":1975,"month":1,"date":1,"utc":true},{"year":1985,"month":1,"date":1,"utc":true}]},"axis":{"orient":"bottom","title":null,"tickCount":{"interval":"month","step":6},"labelExpr":"utcmonth(datum.value)==0 ? utcFormat(datum.value,'%Y') : ''"}},
    "y":{"field":"q","type":"quantitative","scale":{"domain":[0,25],"nice":false},"axis":{"orient":"left","title":"kcfs","values":[0,5,10,15,20,25]}},
    "color":{"field":"s","type":"nominal","scale":{"domain":["o","v"],"range":["#000000","#bdbdbd"]},"legend":null},
    "strokeWidth":{"field":"s","type":"nominal","scale":{"type":"point","domain":["o","v"],"range":[1.6,3.5],"padding":0},"legend":null}
   }},
  {"mark":{"type":"line","opacity":0,"clip":true},
   "encoding":{
    "x":{"field":"d","type":"temporal","axis":{"orient":"top","title":null,"labels":false,"tickCount":{"interval":"month","step":6}}},
    "y":{"field":"q","type":"quantitative","axis":{"orient":"right","title":null,"labels":false,"values":[0,5,10,15,20,25]}}
   }}
 ],
 "resolve":{"axis":{"x":"independent","y":"independent"}}
},
{"width":983,"height":196,"data":{"name":"p4"},"transform":[{"fold":["v","o"],"as":["s","q"]}],
 "title":{"text":"Rio Grande R. at Lobatos, CO"},
 "layer":[
  {"mark":{"type":"line","clip":true,"xOffset":4.1},
   "encoding":{
    "x":{"field":"d","type":"temporal","scale":{"type":"utc","domain":[{"year":1960,"month":1,"date":1,"utc":true},{"year":1970,"month":1,"date":1,"utc":true}]},"axis":{"orient":"bottom","title":null,"tickCount":{"interval":"month","step":6},"labelExpr":"utcmonth(datum.value)==0 ? utcFormat(datum.value,'%Y') : ''"}},
    "y":{"field":"q","type":"quantitative","scale":{"domain":[0,13],"nice":false},"axis":{"orient":"left","title":"kcfs","values":[0,3,6,9,12]}},
    "color":{"field":"s","type":"nominal","scale":{"domain":["o","v"],"range":["#000000","#bdbdbd"]},"legend":null},
    "strokeWidth":{"field":"s","type":"nominal","scale":{"type":"point","domain":["o","v"],"range":[1.6,3.5],"padding":0},"legend":null}
   }},
  {"mark":{"type":"line","opacity":0,"clip":true},
   "encoding":{
    "x":{"field":"d","type":"temporal","axis":{"orient":"top","title":null,"labels":false,"tickCount":{"interval":"month","step":6}}},
    "y":{"field":"q","type":"quantitative","axis":{"orient":"right","title":null,"labels":false,"values":[0,3,6,9,12]}}
   }}
 ],
 "resolve":{"axis":{"x":"independent","y":"independent"}}
},
{"width":983,"height":196,"data":{"name":"p5"},"transform":[{"fold":["v","o"],"as":["s","q"]}],
 "title":{"text":"Carson R. near Ft. Churchill, NV"},
 "layer":[
  {"mark":{"type":"line","clip":true,"xOffset":4.1},
   "encoding":{
    "x":{"field":"d","type":"temporal","scale":{"type":"utc","domain":[{"year":1960,"month":1,"date":1,"utc":true},{"year":1970,"month":1,"date":1,"utc":true}]},"axis":{"orient":"bottom","title":null,"tickCount":{"interval":"month","step":6},"labelExpr":"utcmonth(datum.value)==0 ? utcFormat(datum.value,'%Y') : ''"}},
    "y":{"field":"q","type":"quantitative","scale":{"domain":[0,5],"nice":false},"axis":{"orient":"left","title":"kcfs","titleX":-62,"values":[0,1,2,3,4,5]}},
    "color":{"field":"s","type":"nominal","scale":{"domain":["o","v"],"range":["#000000","#bdbdbd"]},"legend":null},
    "strokeWidth":{"field":"s","type":"nominal","scale":{"type":"point","domain":["o","v"],"range":[1.6,3.5],"padding":0},"legend":null}
   }},
  {"mark":{"type":"line","opacity":0,"clip":true},
   "encoding":{
    "x":{"field":"d","type":"temporal","axis":{"orient":"top","title":null,"labels":false,"tickCount":{"interval":"month","step":6}}},
    "y":{"field":"q","type":"quantitative","axis":{"orient":"right","title":null,"labels":false,"values":[0,1,2,3,4,5]}}
   }}
 ],
 "resolve":{"axis":{"x":"independent","y":"independent"}}
}
],
"resolve":{"scale":{"color":"independent","strokeWidth":"independent"},"legend":{"color":"independent","strokeWidth":"independent"}}
}
